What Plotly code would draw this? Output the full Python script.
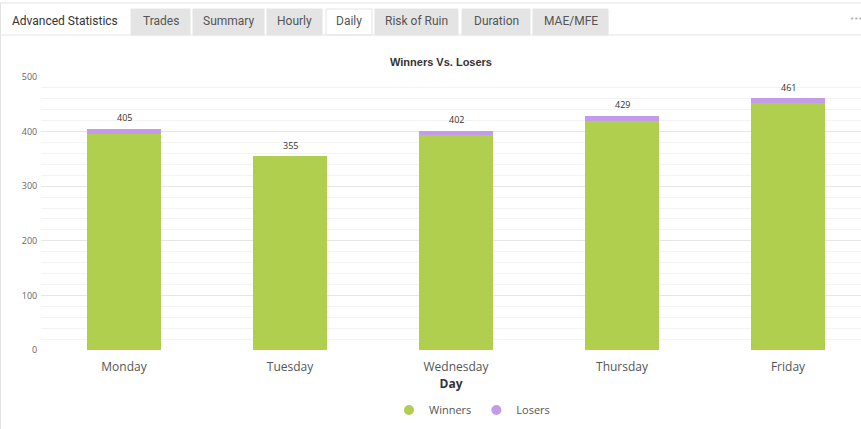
import plotly.graph_objects as go

# Data
days = ["Monday", "Tuesday", "Wednesday", "Thursday", "Friday"]
winners = [395, 355, 394, 420, 452]
losers = [10, 0, 8, 9, 9]
totals = [405, 355, 402, 429, 461]

tab_names = ["Trades", "Summary", "Hourly", "Daily", "Risk of Ruin", "Duration", "MAE/MFE"]
tab_edges = [(131, 190), (193, 264), (267, 322), (326, 372), (375, 458), (462, 530), (533, 608)]

W, H = 861, 429
ML, MR, MT, MB = 41, 0, 77, 79
PW = W - ML - MR
PH = H - MT - MB


def px(x):
    return (x - ML) / PW


def py(y):
    return (H - MB - y) / PH


GREEN = "#b0cf4e"
PURPLE = "#c49be8"

fig = go.Figure()

fig.add_trace(go.Bar(x=days, y=winners, name="Winners", marker_color=GREEN,
                     marker_line_width=0, width=0.44, showlegend=False, hoverinfo="y"))
fig.add_trace(go.Bar(x=days, y=losers, name="Losers", marker_color=PURPLE,
                     marker_line_width=0, width=0.44, showlegend=False, hoverinfo="y"))

# circle markers for the legend
for name, col in [("Winners", GREEN), ("Losers", PURPLE)]:
    fig.add_trace(go.Scatter(x=[None], y=[None], mode="markers", name=name,
                             marker=dict(color=col, size=10, symbol="circle")))

# total labels above bars
annotations = [
    dict(x=d, y=t, text=str(t), showarrow=False, yshift=11,
         font=dict(size=9, color="#333", family="Open Sans"))
    for d, t in zip(days, totals)
]

# chart title
annotations.append(dict(xref="paper", yref="paper", x=px(441), y=py(54), xanchor="center",
                        text="<b>Winners Vs. Losers</b>", showarrow=False,
                        font=dict(size=11, color="#333", family="Liberation Sans")))

# tab bar
shapes = [
    dict(type="line", xref="paper", yref="paper", x0=px(0), x1=px(W), y0=py(3), y1=py(3),
         line=dict(color="#e3e3e3", width=1)),
    dict(type="line", xref="paper", yref="paper", x0=px(0.5), x1=px(0.5), y0=py(3), y1=py(H),
         line=dict(color="#e3e3e3", width=1)),
    dict(type="line", xref="paper", yref="paper", x0=px(0), x1=px(W), y0=py(35), y1=py(35),
         line=dict(color="#e6e6e6", width=1)),
]
for name, (x0, x1) in zip(tab_names, tab_edges):
    active = name == "Daily"
    shapes.append(dict(type="rect", xref="paper", yref="paper",
                       x0=px(x0), x1=px(x1), y0=py(35), y1=py(9),
                       fillcolor="#ffffff" if active else "#e4e4e4",
                       line=dict(color="#e4e4e4", width=1), layer="below"))
    annotations.append(dict(xref="paper", yref="paper", x=px((x0 + x1) / 2), y=py(21),
                            xanchor="center", yanchor="middle",
                            text=name, showarrow=False,
                            font=dict(size=12, color="#555", family="Roboto")))

annotations.append(dict(xref="paper", yref="paper", x=px(65), y=py(21),
                        xanchor="center", yanchor="middle",
                        text="Advanced Statistics", showarrow=False,
                        font=dict(size=12, color="#333", family="Roboto")))
annotations.append(dict(xref="paper", yref="paper", x=px(856), y=py(19),
                        xanchor="center", yanchor="middle",
                        text="•••", showarrow=False,
                        font=dict(size=7, color="#aaa", family="DejaVu Sans")))

fig.update_layout(
    width=W, height=H,
    margin=dict(l=ML, r=MR, t=MT, b=MB, autoexpand=False),
    barmode="stack",
    plot_bgcolor="white",
    paper_bgcolor="white",
    showlegend=True,
    legend=dict(orientation="h", x=px(472), xanchor="center", y=py(410), yanchor="middle",
                traceorder="normal",
                font=dict(size=11, color="#555", family="Open Sans"), itemwidth=30),
    annotations=annotations,
    shapes=shapes,
    font=dict(family="Open Sans"),
)

fig.update_xaxes(
    range=[-0.5, -0.5 + PW / 166],
    showgrid=False, zeroline=False, showline=False,
    tickfont=dict(size=12, color="#555"),
    ticks="outside", ticklen=6, tickcolor="white",
    title=dict(text="<b>Day</b>", font=dict(size=12, color="#333"), standoff=3),
)
fig.update_yaxes(
    range=[0, 500],
    tickvals=[0, 100, 200, 300, 400, 500],
    showgrid=True, gridcolor="#e6e6e6", zeroline=False,
    minor=dict(dtick=20, showgrid=True, gridcolor="#f3f3f3"),
    tickfont=dict(size=9, color="#666"),
    ticks="outside", ticklen=1, tickcolor="white",
)

# remove the browser's default page margin so the figure sits at the corner
fig.write_html("out.html", config={"displayModeBar": False},
               post_script="document.body.style.margin='0';")
